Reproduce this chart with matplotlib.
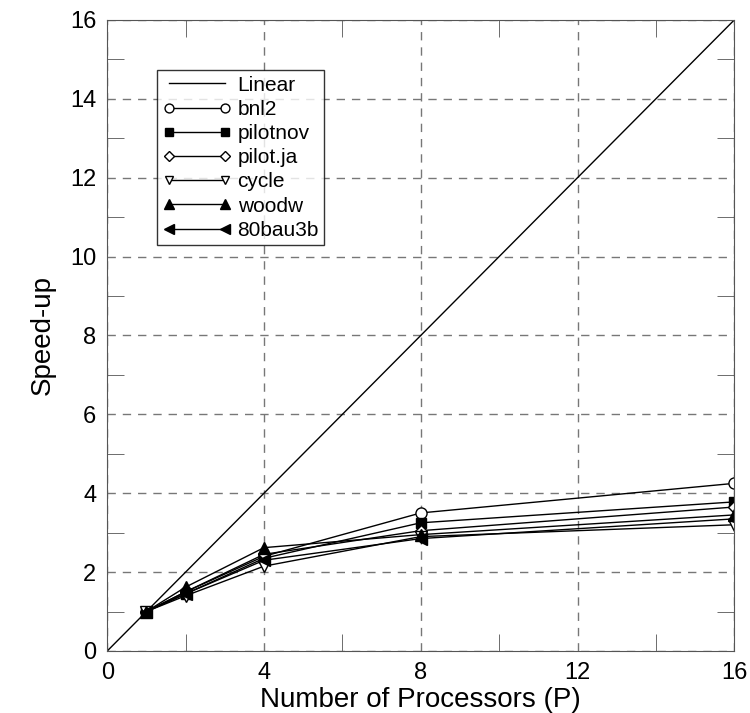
import matplotlib.pyplot as plt
import numpy as np

plt.rcParams['font.family'] = ['Liberation Sans', 'DejaVu Sans']

# processors and measured speed-ups
procs = [1, 2, 4, 8, 16]
linear = [0, 16]
bnl2 = [1.0, 1.5, 2.4, 3.5, 4.25]
pilotnov = [1.0, 1.45, 2.35, 3.25, 3.78]
pilot_ja = [1.0, 1.5, 2.45, 3.05, 3.65]
cycle = [1.0, 1.4, 2.15, 2.9, 3.2]
woodw = [1.0, 1.62, 2.62, 2.95, 3.45]
bau3b = [1.0, 1.45, 2.3, 2.85, 3.35]

series = [
    ("bnl2", bnl2, dict(marker='o', mfc='white', markersize=8)),
    ("pilotnov", pilotnov, dict(marker='s', mfc='black', markersize=7)),
    ("pilot.ja", pilot_ja, dict(marker='D', mfc='white', markersize=6)),
    ("cycle", cycle, dict(marker='v', mfc='white', markersize=8)),
    ("woodw", woodw, dict(marker='^', mfc='black', markersize=9)),
    ("80bau3b", bau3b, dict(marker='<', mfc='black', markersize=9)),
]

fig = plt.figure(figsize=(7.5, 7.13), dpi=100)
ax = fig.add_axes([0.143, 0.087, 0.836, 0.885])

ax.plot(linear, linear, color='black', lw=1, label="Linear")
for name, vals, st in series:
    ax.plot(procs, vals, color='black', lw=1, label=name,
            mec='black', mew=1, **st)

ax.set_xlim(0, 16)
ax.set_ylim(0, 16)
ax.set_xticks([0, 4, 8, 12, 16])
ax.set_xticks([2, 6, 10, 14], minor=True)
ax.set_yticks(np.arange(0, 17, 2))
ax.set_yticks(np.arange(1, 16, 2), minor=True)
ax.tick_params(which='both', direction='in', top=True, right=True,
               color='#555555', labelsize=17)
ax.tick_params(which='major', length=0, pad=8)
ax.tick_params(which='minor', length=12)
ax.grid(True, which='major', linestyle=(0, (6, 5)), color='#777777', lw=1)
for s in ax.spines.values():
    s.set_color('#555555')

ax.set_xlabel("Number of Processors (P)", fontsize=20, labelpad=2)
ax.set_ylabel("Speed-up", fontsize=20, labelpad=10)

leg = ax.legend(loc='upper left', bbox_to_anchor=(0.08, 0.92), numpoints=2,
                fontsize=15, frameon=True, fancybox=False, handlelength=3.3,
                borderpad=0.25, labelspacing=0.25, handletextpad=0.3,
                borderaxespad=0, markerscale=0.8)
leg.get_frame().set_edgecolor('black')
leg.get_frame().set_linewidth(1)

fig.savefig("out.png", dpi=100)
